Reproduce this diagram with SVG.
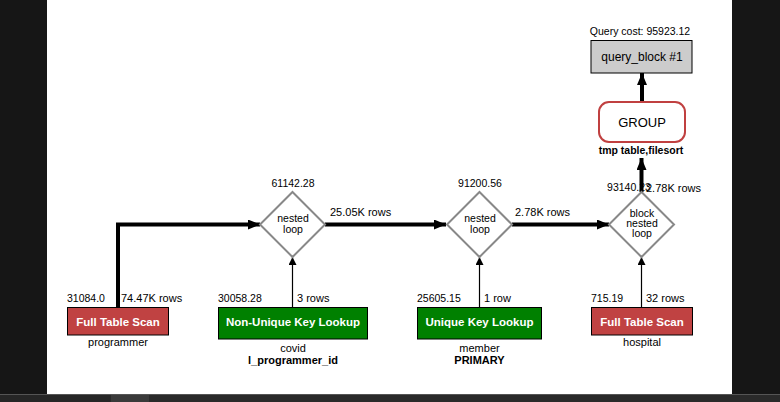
<svg xmlns="http://www.w3.org/2000/svg" width="780" height="402" viewBox="0 0 780 402">
<style>
text{font-family:"Liberation Sans",Arial,sans-serif;fill:#000}
.s{font-size:10.5px}
.m{font-size:11px}
.d{font-size:10.5px}
.b{font-weight:bold}
.w{fill:#fff;font-weight:bold;font-size:11.5px}
.th{stroke:#000;stroke-width:4;fill:none}
.tn{stroke:#000;stroke-width:1.2;fill:none}
.dia{fill:#fff;stroke:#888;stroke-width:2}
</style>
<defs>
<marker id="ah" markerWidth="12" markerHeight="10" refX="12" refY="5" orient="auto" markerUnits="userSpaceOnUse"><path d="M0,0L12,5L0,10z" fill="#000"/></marker>
<marker id="as" markerWidth="8" markerHeight="8" refX="8" refY="4" orient="auto" markerUnits="userSpaceOnUse"><path d="M0,0L8,4L0,8z" fill="#000"/></marker>
</defs>
<rect x="0" y="0" width="780" height="402" fill="#161616"/>
<rect x="47" y="0" width="685" height="394" fill="#fff"/>
<rect x="0" y="394" width="780" height="8" fill="#2a2a2a"/>
<rect x="0" y="394" width="110" height="8" fill="#262626"/>
<rect x="111" y="394" width="38" height="8" fill="#3a3a3a"/>
<line x1="0" y1="394.5" x2="780" y2="394.5" stroke="#555" stroke-width="1"/>
<g id="connectors">
<path class="th" d="M118,307V224.5H260" marker-end="url(#ah)"/>
<text class="m" x="121" y="302">74.47K rows</text>
<path class="th" d="M325,224.5H446" marker-end="url(#ah)"/>
<text class="m" x="330" y="216">25.05K rows</text>
<path class="th" d="M512,224.5H609" marker-end="url(#ah)"/>
<text class="m" x="515" y="216">2.78K rows</text>
<path class="th" d="M641.5,192V158" marker-end="url(#ah)"/>
<text class="m" x="646" y="192">2.78K rows</text>
<path class="th" d="M642,102V73" marker-end="url(#ah)"/>
<path class="tn" d="M292.5,307V257" marker-end="url(#as)"/>
<text class="m" x="297" y="302">3 rows</text>
<path class="tn" d="M479.5,307V257" marker-end="url(#as)"/>
<text class="m" x="484" y="302">1 row</text>
<path class="tn" d="M641.5,307V257" marker-end="url(#as)"/>
<text class="m" x="646" y="302">32 rows</text>
</g>
<g id="query_block">
<text class="s" x="640" y="35" text-anchor="middle">Query cost: 95923.12</text>
<rect x="591" y="40.5" width="101" height="32.5" fill="#ccc" stroke="#000" stroke-width="1"/>
<text x="642" y="61" font-size="12" text-anchor="middle">query_block #1</text>
</g>
<g id="group">
<rect x="599" y="102" width="86" height="40" rx="10" fill="#fff" stroke="#c04040" stroke-width="2"/>
<text x="642" y="127" font-size="13" text-anchor="middle">GROUP</text>
<text class="s b" x="641" y="154" text-anchor="middle">tmp table,filesort</text>
</g>
<g id="nl1">
<text class="s" x="293" y="187" text-anchor="middle">61142.28</text>
<path class="dia" d="M292.5,192L325,224.5L292.5,257L260,224.5z"/>
<text class="d" x="293" y="222" text-anchor="middle">nested</text>
<text class="d" x="293" y="233" text-anchor="middle">loop</text>
</g>
<g id="nl2">
<text class="s" x="480" y="187" text-anchor="middle">91200.56</text>
<path class="dia" d="M479.5,192L512,224.5L479.5,257L447,224.5z"/>
<text class="d" x="480" y="222" text-anchor="middle">nested</text>
<text class="d" x="480" y="233" text-anchor="middle">loop</text>
</g>
<g id="bnl">
<text class="s" x="629" y="191" text-anchor="middle">93140.23</text>
<path class="dia" d="M641.5,192L674,224.5L641.5,257L609,224.5z"/>
<text class="d" x="642" y="217" text-anchor="middle">block</text>
<text class="d" x="642" y="227" text-anchor="middle">nested</text>
<text class="d" x="642" y="237" text-anchor="middle">loop</text>
</g>
<g id="programmer">
<text class="s" x="67" y="302">31084.0</text>
<rect x="67.5" y="307.5" width="101" height="27.5" fill="#c04242" stroke="#000" stroke-width="1"/>
<text class="w" x="118" y="326" text-anchor="middle">Full Table Scan</text>
<text class="m" x="118" y="346" text-anchor="middle">programmer</text>
</g>
<g id="covid">
<text class="s" x="218" y="302">30058.28</text>
<rect x="218.5" y="307.5" width="149" height="31.5" fill="#008000" stroke="#000" stroke-width="1"/>
<text class="w" x="293" y="326" text-anchor="middle" font-size="11">Non-Unique Key Lookup</text>
<text class="m" x="293" y="352" text-anchor="middle">covid</text>
<text class="m b" x="293" y="364" text-anchor="middle">l_programmer_id</text>
</g>
<g id="member">
<text class="s" x="417" y="302">25605.15</text>
<rect x="417.5" y="307.5" width="124" height="31.5" fill="#008000" stroke="#000" stroke-width="1"/>
<text class="w" x="479.5" y="326" text-anchor="middle">Unique Key Lookup</text>
<text class="m" x="479.5" y="352" text-anchor="middle">member</text>
<text class="m b" x="479.5" y="364" text-anchor="middle">PRIMARY</text>
</g>
<g id="hospital">
<text class="s" x="591" y="302">715.19</text>
<rect x="591.5" y="307.5" width="101" height="27.5" fill="#c04242" stroke="#000" stroke-width="1"/>
<text class="w" x="642" y="326" text-anchor="middle">Full Table Scan</text>
<text class="m" x="642" y="346" text-anchor="middle">hospital</text>
</g>
</svg>
